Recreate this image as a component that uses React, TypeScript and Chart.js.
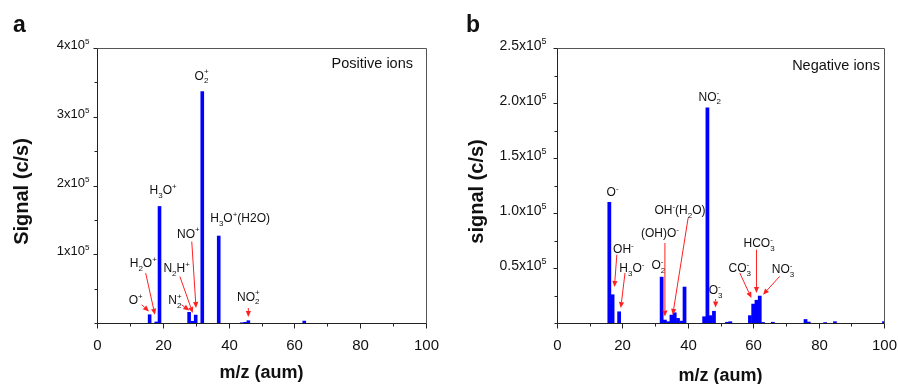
import React, { useEffect, useRef } from "react";
import { Chart, registerables } from "chart.js";

Chart.register(...registerables);

// ---------- data ----------
const posMass = [16, 18, 19, 28, 29, 30, 32, 37, 44, 45, 46, 63];
const posSignal = [12500, 2000, 170000, 16000, 3000, 12000, 337000, 127000, 800, 1500, 3800, 3300];

const negMass = [16, 17, 19, 32, 33, 34, 35, 36, 37, 38, 39, 45, 46, 47, 48, 52, 53, 59, 60, 61, 62, 63, 66, 76, 77, 82, 85, 100];
const negSignal = [110000, 26000, 10500, 42000, 3000, 1500, 7500, 9600, 4500, 2000, 33000, 6000, 196000, 7000, 11000, 1000, 1500, 7000, 17500, 21000, 24800, 800, 1000, 3500, 1200, 700, 1500, 1500];

const xTickLabels = [0, 20, 40, 60, 80, 100];
const posYTickValues = [100000, 200000, 300000, 400000];
const posYTickLabels = ["1x10^5", "2x10^5", "3x10^5", "4x10^5"];
const negYTickValues = [50000, 100000, 150000, 200000, 250000];
const negYTickLabels = ["0.5x10^5", "1.0x10^5", "1.5x10^5", "2.0x10^5", "2.5x10^5"];

type Ann = { text: string; x: number; y: number; arrow?: [number, number, number, number] };

const posAnnotations: Ann[] = [
  { text: "O{2|+}", x: 31.8, y: 360000 },
  { text: "H_3O^+", x: 20.1, y: 193500 },
  { text: "H_3O^+(H2O)", x: 43.5, y: 152800 },
  { text: "NO^+", x: 27.75, y: 130600, arrow: [28.8, 118400, 30.1, 21800] },
  { text: "N_2H^+", x: 24.2, y: 79800, arrow: [25.2, 67600, 29.1, 14500] },
  { text: "N{2|+}", x: 23.7, y: 33800, arrow: [25.7, 26600, 28.05, 18300] },
  { text: "H_2O^+", x: 14.07, y: 87100, arrow: [14.8, 72600, 17.6, 12000] },
  { text: "O^+", x: 11.76, y: 33800, arrow: [13.6, 26600, 15.8, 16800] },
  { text: "NO{2|+}", x: 46, y: 38600, arrow: [46, 21800, 46, 8700] },
];

const negAnnotations: Ann[] = [
  { text: "NO{2|-}", x: 46.7, y: 206000 },
  { text: "O^-", x: 17.0, y: 119000 },
  { text: "OH^-", x: 20.3, y: 67500, arrow: [18.3, 62100, 17.56, 32700] },
  { text: "H_3O^-", x: 22.9, y: 50000, arrow: [20.8, 45500, 19.5, 13600] },
  { text: "O{2|-}", x: 31.0, y: 53000 },
  { text: "(OH)O^-", x: 31.5, y: 81800, arrow: [33.0, 72700, 33.0, 6000] },
  { text: "OH^-(H_2O)", x: 37.6, y: 103000, arrow: [40.1, 95500, 35.4, 7500] },
  { text: "O{3|-}", x: 48.5, y: 30300, arrow: [48.5, 21800, 48.5, 14200] },
  { text: "CO{3|-}", x: 55.9, y: 50000, arrow: [55.9, 45500, 59.45, 22700] },
  { text: "HCO{3|-}", x: 61.8, y: 72700, arrow: [61.0, 66600, 61.0, 27300] },
  { text: "NO{3|-}", x: 69.1, y: 49000, arrow: [68.1, 42400, 63.0, 25700] },
];

// ---------- rich text helpers ----------
const FAM = 'Arial, "Liberation Sans", sans-serif';
type Tok = { t: "n" | "b" | "p" | "s"; a: string; b?: string };

function parse(s: string): Tok[] {
  const out: Tok[] = [];
  let buf = "";
  let i = 0;
  const flush = () => {
    if (buf) {
      out.push({ t: "n", a: buf });
      buf = "";
    }
  };
  while (i < s.length) {
    const c = s[i];
    if (c === "_" || c === "^") {
      flush();
      out.push({ t: c === "_" ? "b" : "p", a: s[i + 1] });
      i += 2;
    } else if (c === "{") {
      flush();
      const j = s.indexOf("}", i);
      const [a, b] = s.slice(i + 1, j).split("|");
      out.push({ t: "s", a, b });
      i = j + 1;
    } else {
      buf += c;
      i++;
    }
  }
  flush();
  return out;
}

function drawRich(
  ctx: CanvasRenderingContext2D,
  s: string,
  x0: number,
  cy: number,
  fs: number,
  align: "left" | "center" | "right",
  color: string,
  smallRatio = 0.7
) {
  const toks = parse(s);
  const small = Math.round(fs * smallRatio);
  const fMain = `${fs}px ${FAM}`;
  const fSmall = `${small}px ${FAM}`;
  const widths = toks.map((tk) => {
    if (tk.t === "n") {
      ctx.font = fMain;
      return ctx.measureText(tk.a).width;
    }
    ctx.font = fSmall;
    if (tk.t === "s") return Math.max(ctx.measureText(tk.a).width, ctx.measureText(tk.b || "").width);
    return ctx.measureText(tk.a).width;
  });
  const total = widths.reduce((p, c) => p + c, 0);
  let x = align === "center" ? x0 - total / 2 : align === "right" ? x0 - total : x0;
  const base = cy + fs * 0.36;
  ctx.fillStyle = color;
  ctx.textAlign = "left";
  ctx.textBaseline = "alphabetic";
  toks.forEach((tk, i) => {
    if (tk.t === "n") {
      ctx.font = fMain;
      ctx.fillText(tk.a, x, base);
    } else {
      ctx.font = fSmall;
      if (tk.t === "b" || tk.t === "s") ctx.fillText(tk.a, x, base + fs * 0.3);
      if (tk.t === "p") ctx.fillText(tk.a, x, base - fs * 0.42);
      if (tk.t === "s") ctx.fillText(tk.b || "", x, base - fs * 0.45);
    }
    x += widths[i];
  });
}

function drawArrow(ctx: CanvasRenderingContext2D, x1: number, y1: number, x2: number, y2: number) {
  const col = "#ff2020";
  ctx.strokeStyle = col;
  ctx.fillStyle = col;
  ctx.lineWidth = 1;
  const ang = Math.atan2(y2 - y1, x2 - x1);
  const L = 6;
  const W = 2.6;
  const bx = x2 - L * Math.cos(ang);
  const by = y2 - L * Math.sin(ang);
  ctx.beginPath();
  ctx.moveTo(x1, y1);
  ctx.lineTo(bx, by);
  ctx.stroke();
  ctx.beginPath();
  ctx.moveTo(x2, y2);
  ctx.lineTo(bx + W * Math.sin(ang), by - W * Math.cos(ang));
  ctx.lineTo(bx - W * Math.sin(ang), by + W * Math.cos(ang));
  ctx.closePath();
  ctx.fill();
}

// ---------- panel ----------
type PanelCfg = {
  left: number;
  letter: string;
  letterX: number;
  masses: number[];
  signals: number[];
  yMax: number;
  yStep: number;
  yTickValues: number[];
  yTickLabels: string[];
  yTickFont: number;
  yLabelGap: number;
  xTickFont: number;
  yAxisWidth: number;
  padRight: number;
  barPct: number;
  yTitle: string;
  yTitleX: number;
  boxText: string;
  boxTextGap: number;
  boxTextY: number;
  xTitleBase: number;
  annotations: Ann[];
};

function Panel({ cfg }: { cfg: PanelCfg }) {
  const ref = useRef<HTMLCanvasElement>(null);
  useEffect(() => {
    if (!ref.current) return;
    const drawPlugin = {
      id: "panelDecor",
      afterDraw(chart: any) {
        const ctx: CanvasRenderingContext2D = chart.ctx;
        const area = chart.chartArea;
        const xs = chart.scales.x;
        const ys = chart.scales.y;
        ctx.save();
        const L = Math.round(area.left) + 0.5;
        const R = Math.round(area.right) + 0.5;
        const T = Math.round(area.top) + 0.5;
        const B = Math.round(area.bottom) + 0.5;
        // frame
        ctx.lineWidth = 1;
        ctx.strokeStyle = "#555";
        ctx.beginPath();
        ctx.moveTo(L, T);
        ctx.lineTo(R, T);
        ctx.lineTo(R, B);
        ctx.stroke();
        ctx.strokeStyle = "#222";
        ctx.beginPath();
        ctx.moveTo(L, T);
        ctx.lineTo(L, B);
        ctx.lineTo(R, B);
        ctx.stroke();
        // y ticks
        ys.ticks.forEach((tk: any) => {
          const py = Math.round(ys.getPixelForValue(tk.value)) + 0.5;
          const idx = cfg.yTickValues.indexOf(tk.value);
          const len = idx >= 0 ? 4 : 3;
          ctx.strokeStyle = "#222";
          ctx.beginPath();
          ctx.moveTo(L - len, py);
          ctx.lineTo(L, py);
          ctx.stroke();
          if (idx >= 0) {
            drawRich(ctx, cfg.yTickLabels[idx], L - cfg.yLabelGap, py - 4, cfg.yTickFont, "right", "#111", 0.64);
          }
        });
        // x ticks
        xs.ticks.forEach((tk: any) => {
          const px = Math.round(xs.getPixelForValue(tk.value)) + 0.5;
          const major = xTickLabels.indexOf(tk.value) >= 0;
          const len = major ? 5 : 3;
          ctx.strokeStyle = "#222";
          ctx.beginPath();
          ctx.moveTo(px, B);
          ctx.lineTo(px, B + len);
          ctx.stroke();
          if (major) {
            ctx.font = `${cfg.xTickFont}px ${FAM}`;
            ctx.fillStyle = "#111";
            ctx.textAlign = "center";
            ctx.textBaseline = "alphabetic";
            ctx.fillText(String(tk.value), px, 350);
          }
        });
        // x title
        ctx.font = `bold 18px ${FAM}`;
        ctx.fillStyle = "#111";
        ctx.textAlign = "center";
        ctx.textBaseline = "alphabetic";
        ctx.fillText("m/z (aum)", (area.left + area.right) / 2, cfg.xTitleBase);
        // y title
        ctx.save();
        ctx.translate(cfg.yTitleX, (area.top + area.bottom) / 2 + 6);
        ctx.rotate(-Math.PI / 2);
        ctx.font = `bold 20px ${FAM}`;
        ctx.textAlign = "center";
        ctx.textBaseline = "middle";
        ctx.fillText(cfg.yTitle, 0, 0);
        ctx.restore();
        // panel letter
        ctx.font = `bold 23px ${FAM}`;
        ctx.textAlign = "left";
        ctx.textBaseline = "alphabetic";
        ctx.fillText(cfg.letter, cfg.letterX, 32);
        // box text
        ctx.font = `14.5px ${FAM}`;
        ctx.textAlign = "right";
        ctx.fillText(cfg.boxText, area.right - cfg.boxTextGap, cfg.boxTextY);
        // annotations
        cfg.annotations.forEach((a) => {
          if (a.arrow) {
            const [ax1, ay1, ax2, ay2] = a.arrow;
            drawArrow(
              ctx,
              xs.getPixelForValue(ax1),
              ys.getPixelForValue(ay1),
              xs.getPixelForValue(ax2),
              ys.getPixelForValue(ay2)
            );
          }
          drawRich(ctx, a.text, xs.getPixelForValue(a.x), ys.getPixelForValue(a.y), 12, "center", "#111");
        });
        ctx.restore();
      },
    };

    const chart = new Chart(ref.current, {
      type: "bar",
      data: {
        datasets: [
          {
            data: cfg.masses.map((m, i) => ({ x: m, y: cfg.signals[i] })),
            backgroundColor: "#0000ff",
            borderWidth: 0,
            barPercentage: cfg.barPct,
            categoryPercentage: 1,
          } as any,
        ],
      },
      options: {
        animation: false,
        responsive: false,
        maintainAspectRatio: false,
        layout: { padding: { left: 0, top: 48, right: cfg.padRight, bottom: 0 } },
        plugins: { legend: { display: false }, tooltip: { enabled: false } },
        scales: {
          x: {
            type: "linear",
            min: 0,
            max: 100,
            offset: false,
            grid: { display: false },
            border: { display: false },
            ticks: { display: false, stepSize: 10 },
            afterFit: (s: any) => {
              s.height = 61;
            },
          },
          y: {
            type: "linear",
            min: 0,
            max: cfg.yMax,
            grid: { display: false },
            border: { display: false },
            ticks: { display: false, stepSize: cfg.yStep },
            afterFit: (s: any) => {
              s.width = cfg.yAxisWidth;
            },
          },
        },
      } as any,
      plugins: [drawPlugin],
    });
    return () => chart.destroy();
  }, []);
  return (
    <canvas
      ref={ref}
      width={449}
      height={384}
      style={{ position: "absolute", left: cfg.left, top: 0, width: 449, height: 384 }}
    />
  );
}

const panelA: PanelCfg = {
  left: 0,
  letter: "a",
  letterX: 13,
  masses: posMass,
  signals: posSignal,
  yMax: 400000,
  yStep: 50000,
  yTickValues: posYTickValues,
  yTickLabels: posYTickLabels,
  yTickFont: 13,
  yLabelGap: 8,
  xTickFont: 15,
  yAxisWidth: 97,
  padRight: 23,
  barPct: 1.1,
  yTitle: "Signal (c/s)",
  yTitleX: 22,
  boxText: "Positive ions",
  boxTextGap: 13,
  boxTextY: 68,
  xTitleBase: 378,
  annotations: posAnnotations,
};

const panelB: PanelCfg = {
  left: 449,
  letter: "b",
  letterX: 17,
  masses: negMass,
  signals: negSignal,
  yMax: 250000,
  yStep: 25000,
  yTickValues: negYTickValues,
  yTickLabels: negYTickLabels,
  yTickFont: 14,
  yLabelGap: 11,
  xTickFont: 15,
  yAxisWidth: 108,
  padRight: 14,
  barPct: 1.15,
  yTitle: "signal (c/s)",
  yTitleX: 28,
  boxText: "Negative ions",
  boxTextGap: 4,
  boxTextY: 70,
  xTitleBase: 381,
  annotations: negAnnotations,
};

export default function App() {
  return (
    <div style={{ position: "absolute", left: 0, top: 0, width: 898, height: 384, background: "#fff", overflow: "hidden" }}>
      <Panel cfg={panelA} />
      <Panel cfg={panelB} />
    </div>
  );
}
